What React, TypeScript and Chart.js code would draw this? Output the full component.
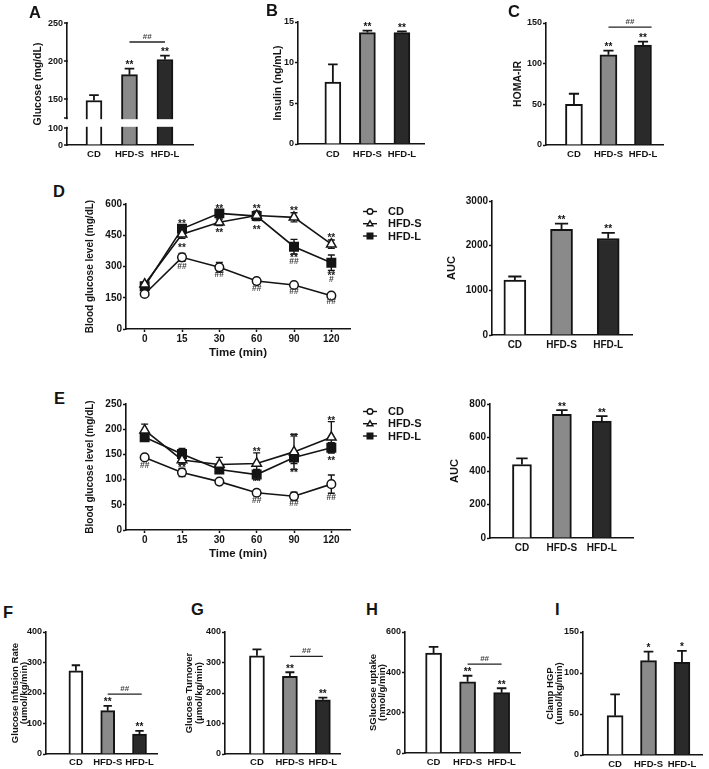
import React, { useEffect, useRef } from 'react';
import { Chart, registerables, LinearScale } from 'chart.js';

const INK = '#141414';
const FONT = '"Liberation Sans", Arial, Helvetica, sans-serif';

// ---------------- data ----------------
const groups = ['CD', 'HFD-S', 'HFD-L'];
const timeLabels = ['0', '15', '30', '60', '90', '120'];
const barColors = ['#ffffff', '#8a8a8a', '#2a2a2a'];

const glucoseMean = [148, 182, 202];
const glucoseSem = [7, 8, 5];
const glucoseStars = ['', '**', '**'];
const glucoseAxisTicks = [0, 100, 125, 150, 200, 250];

const insulinMean = [7.6, 13.7, 13.7];
const insulinSem = [2.2, 0.25, 0.15];
const insulinStars = ['', '**', '**'];

const homaMean = [50, 111, 123];
const homaSem = [13, 5, 4];
const homaStars = ['', '**', '**'];

const ogttCD = [168, 344, 296, 230, 211, 160];
const ogttCDSem = [6, 19, 24, 5, 6, 6];
const ogttHFDS = [215, 455, 512, 545, 536, 407];
const ogttHFDSSem = [8, 20, 16, 20, 22, 20];
const ogttHFDL = [205, 481, 555, 542, 395, 318];
const ogttHFDLSem = [8, 12, 10, 22, 35, 37];
const ogttMarks: [number, number, string][] = [
  [1, 517, '**'], [1, 401, '**'], [1, 300, '##'],
  [2, 589, '**'], [2, 472, '**'], [2, 263, '##'],
  [3, 589, '**'], [3, 488, '**'], [3, 199, '##'],
  [4, 578, '**'], [4, 356, '**'], [4, 327, '##'], [4, 180, '##'],
  [5, 448, '**'], [5, 266, '**'], [5, 239, '#'], [5, 132, '##'],
];
const ogttAuc = [1230, 2368, 2160];
const ogttAucSem = [80, 127, 125];
const ogttAucStars = ['', '**', '**'];

const ittCD = [144, 114, 96, 74, 67, 91];
const ittCDSem = [5, 8, 3, 6, 8, 18];
const ittHFDS = [198, 139, 130, 132, 155, 184];
const ittHFDSSem = [12, 8, 14, 21, 35, 31];
const ittHFDL = [184, 151, 120, 110, 144, 163];
const ittHFDLSem = [6, 11, 6, 10, 12, 10];
const ittMarks: [number, number, string][] = [
  [0, 129, '##'],
  [1, 128, '**'],
  [3, 161, '**'], [3, 100, '**'], [3, 59, '##'],
  [4, 188, '**'], [4, 118, '**'], [4, 53, '##'],
  [5, 222, '**'], [5, 142, '**'], [5, 66, '##'],
];
const ittAuc = [439, 738, 698];
const ittAucSem = [36, 26, 30];
const ittAucStars = ['', '**', '**'];

const girMean = [273, 142, 65];
const girSem = [18, 16, 11];
const girStars = ['', '**', '**'];

const turnoverMean = [322, 255, 178];
const turnoverSem = [21, 13, 7];
const turnoverStars = ['', '**', '**'];

const uptakeMean = [496, 353, 299];
const uptakeSem = [30, 30, 22];
const uptakeStars = ['', '**', '**'];

const hgpMean = [48, 115, 113];
const hgpSem = [26, 11, 14];
const hgpStars = ['', '*', '*'];

// ---------------- broken axis scale (panel A) ----------------
const BREAK_LOW = 100;
const BREAK_HIGH = 125;
const LOW_FRAC = 17 / 122;
const HIGH_FRAC = 27 / 122;

class BrokenLinearScale extends LinearScale {
  static id = 'brokenLinear';
  getPixelForValue(value: number) {
    const self = this as any;
    const min = self.min;
    const max = self.max;
    let f;
    if (value <= BREAK_LOW) f = ((value - min) / (BREAK_LOW - min)) * LOW_FRAC;
    else if (value >= BREAK_HIGH) f = HIGH_FRAC + ((value - BREAK_HIGH) / (max - BREAK_HIGH)) * (1 - HIGH_FRAC);
    else f = LOW_FRAC + ((value - BREAK_LOW) / (BREAK_HIGH - BREAK_LOW)) * (HIGH_FRAC - LOW_FRAC);
    return self.bottom - f * (self.bottom - self.top);
  }
  getValueForPixel(pixel: number) {
    const self = this as any;
    const f = (self.bottom - pixel) / (self.bottom - self.top);
    if (f <= LOW_FRAC) return self.min + (f / LOW_FRAC) * (BREAK_LOW - self.min);
    if (f >= HIGH_FRAC) return BREAK_HIGH + ((f - HIGH_FRAC) / (1 - HIGH_FRAC)) * (self.max - BREAK_HIGH);
    return BREAK_LOW + ((f - LOW_FRAC) / (HIGH_FRAC - LOW_FRAC)) * (BREAK_HIGH - BREAK_LOW);
  }
}

Chart.register(...registerables, BrokenLinearScale as any);
Chart.defaults.font.family = FONT;
Chart.defaults.color = INK;

// ---------------- helpers ----------------
function makeFrame(l: number, t: number, r: number, b: number, YW: number, XH: number, pl: number, pt: number, pr: number, pb: number) {
  const left = Math.floor(l - YW - pl);
  const top = Math.floor(t - pt);
  const right = Math.ceil(r + pr);
  const bottom = Math.ceil(b + XH + pb);
  return {
    left, top, width: right - left, height: bottom - top,
    padding: { left: l - YW - left, top: t - top, right: right - r, bottom: bottom - b - XH },
  };
}

const boldFont = (size: number) => ({ family: FONT, weight: 'bold' as const, size });

type BarSpec = {
  area: [number, number, number, number];
  titleX: number;
  title: string | string[];
  titleSize: number;
  titleLH: number;
  numSize: number;
  catSize: number;
  values: number[];
  errs: number[];
  stars: string[];
  yMin: number; yMax: number; yStep: number;
  xMin: number; xMax: number;
  barW: number;
  bracket?: { from: number; to: number; y: number; text: string };
  brokenTicks?: number[];
  labelPad?: number;
};

function buildBar(s: BarSpec) {
  const [l, t, r, b] = s.area;
  const lh = s.titleSize * s.titleLH;
  const YW = l - (s.titleX - lh / 2 - 2);
  const XH = 20;
  const broken = !!s.brokenTicks;
  const frame = makeFrame(l, t, r, b, YW, XH, 2, 10, 6, 1);
  const overlay = {
    id: 'barOverlay',
    afterDatasetsDraw(chart: any) {
      const { ctx, chartArea, scales } = chart;
      const xs = scales.x;
      const ys = scales.y;
      ctx.save();
      if (broken) {
        const yTop = ys.getPixelForValue(BREAK_HIGH);
        const yBot = ys.getPixelForValue(BREAK_LOW);
        ctx.fillStyle = '#ffffff';
        ctx.fillRect(chartArea.left - 3, yTop + 1.2, chartArea.right - chartArea.left + 6, yBot - yTop - 2.4);
        // ticks and labels of the broken axis, placed through the scale
        ctx.strokeStyle = INK;
        ctx.lineWidth = 1.5;
        ctx.fillStyle = INK;
        ctx.font = `bold ${s.numSize}px ${FONT}`;
        ctx.textAlign = 'right';
        ctx.textBaseline = 'middle';
        s.brokenTicks!.forEach((v) => {
          const y = ys.getPixelForValue(v);
          ctx.beginPath();
          ctx.moveTo(chartArea.left - 3, y);
          ctx.lineTo(chartArea.left + 0.8, y);
          ctx.stroke();
          if (v !== BREAK_HIGH) ctx.fillText(String(v), chartArea.left - 4, y + 0.5);
        });
      }
      ctx.strokeStyle = INK;
      ctx.lineWidth = 1.8;
      ctx.fillStyle = INK;
      s.values.forEach((v, i) => {
        const x = xs.getPixelForValue(i);
        const y0 = ys.getPixelForValue(v);
        const y1 = ys.getPixelForValue(v + s.errs[i]);
        const cw = s.barW * 0.3;
        ctx.beginPath();
        ctx.moveTo(x, y0);
        ctx.lineTo(x, y1);
        ctx.moveTo(x - cw, y1);
        ctx.lineTo(x + cw, y1);
        ctx.stroke();
        if (s.stars[i]) {
          ctx.font = `bold 10px ${FONT}`;
          ctx.textAlign = 'center';
          ctx.textBaseline = 'alphabetic';
          ctx.fillText(s.stars[i], x, y1 - 0.5);
        }
      });
      if (s.bracket) {
        const y = ys.getPixelForValue(s.bracket.y);
        const x1 = xs.getPixelForValue(s.bracket.from);
        const x2 = xs.getPixelForValue(s.bracket.to);
        ctx.lineWidth = 1.3;
        ctx.strokeStyle = '#222';
        ctx.beginPath();
        ctx.moveTo(x1, y);
        ctx.lineTo(x2, y);
        ctx.stroke();
        ctx.font = `bold 8px ${FONT}`;
        ctx.fillStyle = '#444';
        ctx.textAlign = 'center';
        ctx.textBaseline = 'alphabetic';
        ctx.fillText(s.bracket.text, (x1 + x2) / 2, y - 3.2);
      }
      ctx.restore();
    },
  };
  const config: any = {
    type: 'bar',
    data: {
      datasets: [
        {
          data: s.values.map((v, i) => ({ x: i, y: v })),
          backgroundColor: barColors,
          borderColor: INK,
          borderWidth: 2,
          barThickness: s.barW,
          clip: 0,
        },
      ],
    },
    options: {
      animation: false,
      responsive: false,
      events: [],
      layout: { padding: frame.padding },
      plugins: { legend: { display: false }, tooltip: { enabled: false } },
      scales: {
        x: {
          type: 'linear',
          min: s.xMin,
          max: s.xMax,
          offset: false,
          afterBuildTicks: (sc: any) => { sc.ticks = groups.map((_, i) => ({ value: i })); },
          afterFit: (sc: any) => { sc.height = XH; },
          ticks: {
            callback: (v: any) => groups[v] ?? '',
            font: boldFont(s.catSize), color: INK, padding: s.labelPad ?? 4, autoSkip: false, maxRotation: 0,
          },
          grid: { display: true, drawOnChartArea: false, drawTicks: false, offset: false },
          border: { display: true, color: INK, width: 1.6 },
        },
        y: {
          type: broken ? 'brokenLinear' : 'linear',
          min: s.yMin,
          max: s.yMax,
          afterFit: (sc: any) => { sc.width = YW; },
          ticks: {
            display: !broken,
            stepSize: s.yStep,
            font: boldFont(s.numSize), color: INK, padding: 1, autoSkip: false,
            callback: (v: any) => String(v),
          },
          grid: {
            display: true, drawOnChartArea: false, drawTicks: true, tickLength: 3, tickWidth: 1.5,
            tickColor: broken ? 'rgba(0,0,0,0)' : INK,
          },
          border: { display: true, color: INK, width: 1.6 },
          title: {
            display: true, text: s.title, color: INK,
            font: { family: FONT, weight: 'bold', size: s.titleSize, lineHeight: s.titleLH },
            padding: { top: 2, bottom: 0 },
          },
        },
      },
    },
    plugins: [overlay],
  };
  return { frame, config };
}

type LineSpec = {
  area: [number, number, number, number];
  titleX: number;
  yMax: number; yStep: number;
  series: number[][];
  errs: number[][];
  marks: [number, number, string][];
};

const markerStyles = [
  { pointStyle: 'circle', pointRadius: 4.3, fill: '#ffffff' },
  { pointStyle: 'triangle', pointRadius: 5.5, fill: '#ffffff' },
  { pointStyle: 'rect', pointRadius: 6, fill: INK },
];

function drawMarker(ctx: CanvasRenderingContext2D, style: string, x: number, y: number, r: number, fill: string) {
  ctx.beginPath();
  if (style === 'circle') ctx.arc(x, y, r, 0, Math.PI * 2);
  else if (style === 'triangle') {
    ctx.moveTo(x, y - r * 1.1);
    ctx.lineTo(x + r * 1.05, y + r * 0.75);
    ctx.lineTo(x - r * 1.05, y + r * 0.75);
    ctx.closePath();
  } else ctx.rect(x - r, y - r, 2 * r, 2 * r);
  ctx.fillStyle = fill;
  ctx.fill();
  ctx.stroke();
}

function buildLine(s: LineSpec) {
  const [l, t, r, b] = s.area;
  const lh = 10 * 1.2;
  const YW = l - (s.titleX - lh / 2 - 2);
  const XH = 31;
  const frame = makeFrame(l, t, r, b, YW, XH, 2, 10, 90, 1);
  const legendRows = [7.5, 19.7, 32];
  const overlay = {
    id: 'lineOverlay',
    beforeDatasetsDraw(chart: any) {
      const { ctx, scales } = chart;
      ctx.save();
      ctx.strokeStyle = INK;
      ctx.lineWidth = 1.4;
      s.series.forEach((vals, si) => {
        vals.forEach((v, i) => {
          const e = s.errs[si][i];
          const x = scales.x.getPixelForValue(i);
          const yt = scales.y.getPixelForValue(v + e);
          const yb = scales.y.getPixelForValue(v - e);
          ctx.beginPath();
          ctx.moveTo(x, yb);
          ctx.lineTo(x, yt);
          ctx.moveTo(x - 3.5, yt);
          ctx.lineTo(x + 3.5, yt);
          ctx.moveTo(x - 3.5, yb);
          ctx.lineTo(x + 3.5, yb);
          ctx.stroke();
        });
      });
      ctx.restore();
    },
    afterDatasetsDraw(chart: any) {
      const { ctx, scales } = chart;
      ctx.save();
      ctx.textAlign = 'center';
      ctx.textBaseline = 'alphabetic';
      s.marks.forEach(([xi, yv, text]) => {
        const x = scales.x.getPixelForValue(xi);
        const y = scales.y.getPixelForValue(yv);
        const star = text.includes('*');
        const fs = star ? 10 : 8.5;
        ctx.font = `bold ${fs}px ${FONT}`;
        ctx.fillStyle = star ? '#222' : '#3a3a3a';
        ctx.fillText(text, x, y + (star ? 0.58 : 0.35) * fs);
      });
      ctx.restore();
    },
    afterDraw(chart: any) {
      const { ctx, chartArea } = chart;
      const x0 = chartArea.right + 13;
      ctx.save();
      ctx.strokeStyle = INK;
      ctx.lineWidth = 1.4;
      groups.forEach((name, i) => {
        const y = chartArea.top + legendRows[i];
        ctx.beginPath();
        ctx.moveTo(x0, y);
        ctx.lineTo(x0 + 14, y);
        ctx.stroke();
        drawMarker(ctx, markerStyles[i].pointStyle, x0 + 7, y, 2.8, markerStyles[i].fill);
        ctx.fillStyle = INK;
        ctx.font = `bold 11px ${FONT}`;
        ctx.textAlign = 'left';
        ctx.textBaseline = 'middle';
        ctx.fillText(name, x0 + 25, y + 0.5);
      });
      ctx.restore();
    },
  };
  const config: any = {
    type: 'line',
    data: {
      labels: timeLabels,
      datasets: s.series.map((d, i) => ({
        label: groups[i],
        data: d,
        borderColor: INK,
        borderWidth: 1.6,
        pointStyle: markerStyles[i].pointStyle,
        pointRadius: markerStyles[i].pointRadius,
        pointBackgroundColor: markerStyles[i].fill,
        pointBorderColor: INK,
        pointBorderWidth: 1.5,
        tension: 0,
        fill: false,
      })),
    },
    options: {
      animation: false,
      responsive: false,
      events: [],
      layout: { padding: frame.padding },
      plugins: { legend: { display: false }, tooltip: { enabled: false } },
      scales: {
        x: {
          type: 'category',
          offset: true,
          afterFit: (sc: any) => { sc.height = XH; },
          ticks: { font: boldFont(10), color: INK, padding: 1, autoSkip: false, maxRotation: 0 },
          grid: { display: true, drawOnChartArea: false, drawTicks: true, tickLength: 3, tickWidth: 1.5, tickColor: INK, offset: false },
          border: { display: true, color: INK, width: 1.6 },
          title: {
            display: true, text: 'Time (min)', color: INK,
            font: { family: FONT, weight: 'bold', size: 11.5, lineHeight: 1.2 },
            padding: { top: 0, bottom: 0 },
          },
        },
        y: {
          type: 'linear',
          min: 0,
          max: s.yMax,
          afterFit: (sc: any) => { sc.width = YW; },
          ticks: { stepSize: s.yStep, font: boldFont(10), color: INK, padding: 1, autoSkip: false, callback: (v: any) => String(v) },
          grid: { display: true, drawOnChartArea: false, drawTicks: true, tickLength: 3, tickWidth: 1.5, tickColor: INK },
          border: { display: true, color: INK, width: 1.6 },
          title: {
            display: true, text: 'Blood glucose level (mg/dL)', color: INK,
            font: { family: FONT, weight: 'bold', size: 10, lineHeight: 1.2 },
            padding: { top: 2, bottom: 0 },
          },
        },
      },
    },
    plugins: [overlay],
  };
  return { frame, config };
}

// ---------------- panel definitions ----------------
const panels = [
  buildBar({
    area: [67, 23, 193, 145], titleX: 37.7, title: 'Glucose (mg/dL)', titleSize: 10.5, titleLH: 1.2,
    numSize: 9, catSize: 9.5,
    values: glucoseMean, errs: glucoseSem, stars: glucoseStars,
    yMin: 0, yMax: 250, yStep: 50, brokenTicks: glucoseAxisTicks,
    xMin: -0.76, xMax: 2.79, barW: 16,
    bracket: { from: 1, to: 2, y: 225, text: '##' },
  }),
  buildBar({
    area: [298, 22, 424, 144], titleX: 277.7, title: 'Insulin (ng/mL)', titleSize: 10.5, titleLH: 1.2,
    numSize: 9, catSize: 9.5,
    values: insulinMean, errs: insulinSem, stars: insulinStars,
    yMin: 0, yMax: 15, yStep: 5,
    xMin: -1.01, xMax: 2.64, barW: 16, labelPad: 5,
  }),
  buildBar({
    area: [546, 23, 663, 145], titleX: 518.3, title: 'HOMA-IR', titleSize: 10.5, titleLH: 1.2,
    numSize: 9, catSize: 9.5,
    values: homaMean, errs: homaSem, stars: homaStars,
    yMin: 0, yMax: 150, yStep: 50,
    xMin: -0.81, xMax: 2.58, barW: 17,
    bracket: { from: 1, to: 2.25, y: 145, text: '##' },
  }),
  buildLine({
    area: [126, 204, 350, 329], titleX: 90, yMax: 600, yStep: 150,
    series: [ogttCD, ogttHFDS, ogttHFDL], errs: [ogttCDSem, ogttHFDSSem, ogttHFDLSem], marks: ogttMarks,
  }),
  buildBar({
    area: [492, 201, 632, 335], titleX: 451.7, title: 'AUC', titleSize: 11, titleLH: 1.2,
    numSize: 10, catSize: 10,
    values: ogttAuc, errs: ogttAucSem, stars: ogttAucStars,
    yMin: 0, yMax: 3000, yStep: 1000,
    xMin: -0.49, xMax: 2.51, barW: 22, labelPad: 4.7,
  }),
  buildLine({
    area: [126, 404, 350, 530], titleX: 90, yMax: 250, yStep: 50,
    series: [ittCD, ittHFDS, ittHFDL], errs: [ittCDSem, ittHFDSSem, ittHFDLSem], marks: ittMarks,
  }),
  buildBar({
    area: [490, 404, 633, 538], titleX: 455, title: 'AUC', titleSize: 11, titleLH: 1.2,
    numSize: 10, catSize: 10,
    values: ittAuc, errs: ittAucSem, stars: ittAucStars,
    yMin: 0, yMax: 800, yStep: 200,
    xMin: -0.8, xMax: 2.78, barW: 19, labelPad: 4.6,
  }),
  buildBar({
    area: [46, 632, 157, 754], titleX: 15, title: ['Glucose Infusion Rate', '(umol/kg/min)'], titleSize: 9.5, titleLH: 1.0,
    numSize: 9, catSize: 9.5,
    values: girMean, errs: girSem, stars: girStars,
    yMin: 0, yMax: 400, yStep: 100,
    xMin: -0.94, xMax: 2.55, barW: 14, labelPad: 3,
    bracket: { from: 1, to: 2.07, y: 196, text: '##' },
  }),
  buildBar({
    area: [225, 632, 340, 754], titleX: 189.5, title: ['Glucose Turnover', '(µmol/kg/min)'], titleSize: 9.5, titleLH: 1.0,
    numSize: 9, catSize: 9.5,
    values: turnoverMean, errs: turnoverSem, stars: turnoverStars,
    yMin: 0, yMax: 400, yStep: 100,
    xMin: -0.97, xMax: 2.52, barW: 15, labelPad: 3,
    bracket: { from: 1, to: 2, y: 320, text: '##' },
  }),
  buildBar({
    area: [405, 632, 520, 753], titleX: 373, title: ['SGlucose uptake', '(nmol/g/min)'], titleSize: 9.5, titleLH: 1.0,
    numSize: 9, catSize: 9.5,
    values: uptakeMean, errs: uptakeSem, stars: uptakeStars,
    yMin: 0, yMax: 600, yStep: 200,
    xMin: -0.84, xMax: 2.54, barW: 16, labelPad: 4,
    bracket: { from: 1, to: 2, y: 441, text: '##' },
  }),
  buildBar({
    area: [583, 632, 702, 755], titleX: 550, title: ['Clamp HGP', '(umol/kg/min)'], titleSize: 9.5, titleLH: 1.0,
    numSize: 9, catSize: 9.5,
    values: hgpMean, errs: hgpSem, stars: hgpStars,
    yMin: 0, yMax: 150, yStep: 50,
    xMin: -0.96, xMax: 2.6, barW: 16, labelPad: 4,
  }),
];

const panelLetters: [string, number, number][] = [
  ['A', 29, 4], ['B', 266, 1.5], ['C', 508, 3],
  ['D', 53, 183], ['E', 54, 389.5],
  ['F', 3, 603.5], ['G', 191, 601], ['H', 366, 601], ['I', 555, 601],
];

function ChartCanvas({ spec }: { spec: { frame: any; config: any } }) {
  const ref = useRef<HTMLCanvasElement>(null);
  useEffect(() => {
    if (!ref.current) return;
    const chart = new Chart(ref.current, spec.config);
    return () => chart.destroy();
  }, [spec]);
  const f = spec.frame;
  return (
    <canvas
      ref={ref}
      width={f.width}
      height={f.height}
      style={{ position: 'absolute', left: f.left, top: f.top, width: f.width, height: f.height }}
    />
  );
}

export default function App() {
  return (
    <div style={{ position: 'absolute', left: 0, top: 0, width: 709, height: 769, overflow: 'hidden', background: '#ffffff' }}>
      {panels.map((p, i) => (
        <ChartCanvas key={i} spec={p} />
      ))}
      {panelLetters.map(([letter, x, y]) => (
        <div
          key={letter}
          style={{
            position: 'absolute', left: x, top: y, fontFamily: FONT, fontWeight: 'bold',
            fontSize: 16.5, lineHeight: 1, color: INK,
          }}
        >
          {letter}
        </div>
      ))}
    </div>
  );
}
